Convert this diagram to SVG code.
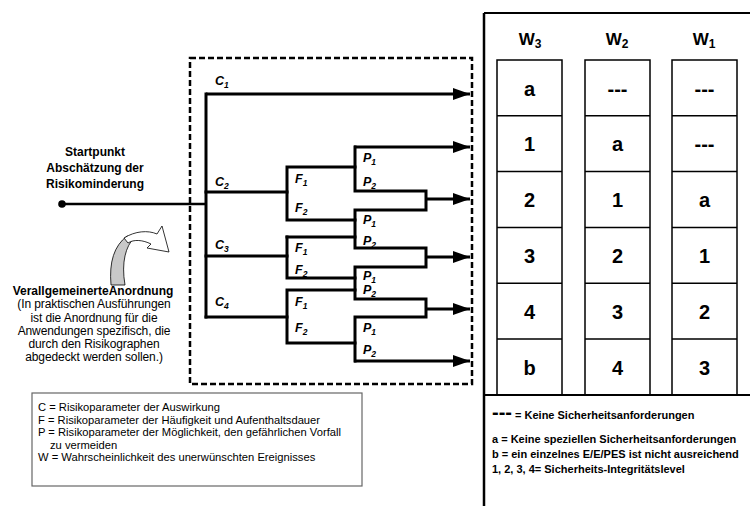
<svg xmlns="http://www.w3.org/2000/svg" width="750" height="506" viewBox="0 0 750 506">
<style>
.ln{fill:none;stroke:#000;stroke-width:3;stroke-linejoin:miter;stroke-linecap:square}
.lbl{font-family:"Liberation Sans",Arial,sans-serif;font-size:12.5px;font-weight:bold;font-style:italic;fill:#000}
.sub{font-size:8.5px}
.t{font-family:"Liberation Sans",Arial,sans-serif;fill:#000}
.b{font-weight:bold}
.cell{fill:#fff;stroke:#000;stroke-width:1.5}
.ct{font-family:"Liberation Sans",Arial,sans-serif;font-size:20px;font-weight:bold;text-anchor:middle;fill:#000}
.hd{font-family:"Liberation Sans",Arial,sans-serif;font-size:17px;font-weight:bold;text-anchor:middle;fill:#000}
</style>
<defs>
<marker id="ah" viewBox="0 0 17 12" refX="17" refY="6" markerWidth="17" markerHeight="12" markerUnits="userSpaceOnUse" orient="auto">
<path d="M0,0 L17,6 L0,12 Z" fill="#000"/>
</marker>
</defs>
<rect width="750" height="506" fill="#fff"/>

<g id="risk-graph-box">
<rect x="190" y="58" width="282" height="326" fill="none" stroke="#000" stroke-width="2.5" stroke-dasharray="6 3"/>
</g>

<g id="start">
<text class="t b" font-size="12" text-anchor="middle" x="95" y="156">Startpunkt</text>
<text class="t b" font-size="12" text-anchor="middle" x="95" y="172">Abschätzung der</text>
<text class="t b" font-size="12" text-anchor="middle" x="95" y="188">Risikominderung</text>
<circle cx="62" cy="204" r="3.8" fill="#000"/>
</g>

<g id="generalized-note">
<path d="M111,285 C109,262 114,246 127,236 L134,238 C126,246 121,262 125,285 Z" fill="#c8c8c8" stroke="#000" stroke-width="0.8"/>
<path d="M124,238 C135,231 148,230 157,234 L162,226 L169,252 L147,248 L151,244 C143,240 134,239 128,243 Z" fill="#fff" stroke="#000" stroke-width="0.8"/>
<text class="t b" font-size="12" text-anchor="middle" x="93" y="295">VerallgemeinerteAnordnung</text>
<g class="t" font-size="12" text-anchor="middle" letter-spacing="-0.1">
<text x="94" y="308">(In praktischen Ausführungen</text>
<text x="94" y="322">ist die Anordnung für die</text>
<text x="94" y="335">Anwendungen spezifisch, die</text>
<text x="94" y="348">durch den Risikographen</text>
<text x="94" y="361">abgedeckt werden sollen.)</text>
</g>
</g>

<g id="labels">
<text class="lbl" x="215" y="85">C<tspan class="sub" dy="3">1</tspan></text>
<text class="lbl" x="215" y="186">C<tspan class="sub" dy="3">2</tspan></text>
<text class="lbl" x="215" y="249">C<tspan class="sub" dy="3">3</tspan></text>
<text class="lbl" x="215" y="306">C<tspan class="sub" dy="3">4</tspan></text>
<text class="lbl" x="295" y="183">F<tspan class="sub" dy="3">1</tspan></text>
<text class="lbl" x="295" y="212">F<tspan class="sub" dy="3">2</tspan></text>
<text class="lbl" x="295" y="252">F<tspan class="sub" dy="3">1</tspan></text>
<text class="lbl" x="295" y="274">F<tspan class="sub" dy="3">2</tspan></text>
<text class="lbl" x="295" y="306">F<tspan class="sub" dy="3">1</tspan></text>
<text class="lbl" x="295" y="332">F<tspan class="sub" dy="3">2</tspan></text>
<text class="lbl" x="363" y="162">P<tspan class="sub" dy="3">1</tspan></text>
<text class="lbl" x="363" y="186">P<tspan class="sub" dy="3">2</tspan></text>
<text class="lbl" x="363" y="224">P<tspan class="sub" dy="3">1</tspan></text>
<text class="lbl" x="363" y="245">P<tspan class="sub" dy="3">2</tspan></text>
<text class="lbl" x="363" y="280">P<tspan class="sub" dy="3">1</tspan></text>
<text class="lbl" x="363" y="294">P<tspan class="sub" dy="3">2</tspan></text>
<text class="lbl" x="363" y="332">P<tspan class="sub" dy="3">1</tspan></text>
<text class="lbl" x="363" y="354">P<tspan class="sub" dy="3">2</tspan></text>
</g>

<g id="connectors">
<line x1="62" y1="204" x2="206" y2="204" stroke="#000" stroke-width="2.5"/>
<polyline class="ln" points="206,94 206,317"/>
<polyline class="ln" points="206,192 287,192"/>
<polyline class="ln" points="355,167 287,167 287,220 355,220"/>
<polyline class="ln" points="355,147 355,191 426,191 426,210 355,210 355,248 426,248 426,267 355,267 355,299 426,299 426,317 355,317 355,361"/>
<polyline class="ln" points="287,237 355,237"/>
<polyline class="ln" points="355,278 287,278 287,237"/>
<polyline class="ln" points="206,256 287,256"/>
<polyline class="ln" points="355,290 287,290 287,343 355,343"/>
<polyline class="ln" points="206,317 287,317"/>
<line x1="206" y1="94" x2="470" y2="94" stroke="#000" stroke-width="3" marker-end="url(#ah)"/>
<line x1="354" y1="147" x2="470" y2="147" stroke="#000" stroke-width="3" marker-end="url(#ah)"/>
<line x1="426" y1="199" x2="470" y2="199" stroke="#000" stroke-width="3" marker-end="url(#ah)"/>
<line x1="426" y1="257" x2="470" y2="257" stroke="#000" stroke-width="3" marker-end="url(#ah)"/>
<line x1="426" y1="309" x2="470" y2="309" stroke="#000" stroke-width="3" marker-end="url(#ah)"/>
<line x1="354" y1="361" x2="470" y2="361" stroke="#000" stroke-width="3" marker-end="url(#ah)"/>
</g>

<g id="table">
<line x1="484" y1="13" x2="484" y2="506" stroke="#000" stroke-width="2.5"/>
<line x1="484" y1="13" x2="750" y2="13" stroke="#000" stroke-width="2"/>
<text class="hd" x="530" y="45">W<tspan font-size="12" dy="3">3</tspan></text>
<text class="hd" x="617" y="45">W<tspan font-size="12" dy="3">2</tspan></text>
<text class="hd" x="704" y="45">W<tspan font-size="12" dy="3">1</tspan></text>
<g id="col-w3">
<rect class="cell" x="497" y="60" width="65" height="335"/>
<path d="M497,115.8 H562 M497,171.6 H562 M497,227.4 H562 M497,283.2 H562 M497,339 H562" stroke="#000" stroke-width="1.5"/>
<text class="ct" x="529.5" y="96">a</text>
<text class="ct" x="529.5" y="151">1</text>
<text class="ct" x="529.5" y="207">2</text>
<text class="ct" x="529.5" y="263">3</text>
<text class="ct" x="529.5" y="319">4</text>
<text class="ct" x="529.5" y="375">b</text>
</g>
<g id="col-w2">
<rect class="cell" x="585" y="60" width="65" height="335"/>
<path d="M585,115.8 H650 M585,171.6 H650 M585,227.4 H650 M585,283.2 H650 M585,339 H650" stroke="#000" stroke-width="1.5"/>
<text class="ct" x="617.5" y="96">---</text>
<text class="ct" x="617.5" y="151">a</text>
<text class="ct" x="617.5" y="207">1</text>
<text class="ct" x="617.5" y="263">2</text>
<text class="ct" x="617.5" y="319">3</text>
<text class="ct" x="617.5" y="375">4</text>
</g>
<g id="col-w1">
<rect class="cell" x="672" y="60" width="65" height="335"/>
<path d="M672,115.8 H737 M672,171.6 H737 M672,227.4 H737 M672,283.2 H737 M672,339 H737" stroke="#000" stroke-width="1.5"/>
<text class="ct" x="704.5" y="96">---</text>
<text class="ct" x="704.5" y="151">---</text>
<text class="ct" x="704.5" y="207">a</text>
<text class="ct" x="704.5" y="263">1</text>
<text class="ct" x="704.5" y="319">2</text>
<text class="ct" x="704.5" y="375">3</text>
</g>
<line x1="484" y1="395" x2="750" y2="395" stroke="#000" stroke-width="2"/>
</g>

<g id="legend-right" class="t b" font-size="11">
<text x="492" y="419"><tspan font-size="20">---</tspan> = Keine Sicherheitsanforderungen</text>
<text x="492" y="443">a = Keine speziellen Sicherheitsanforderungen</text>
<text x="492" y="458">b = ein einzelnes E/E/PES ist nicht ausreichend</text>
<text x="492" y="473">1, 2, 3, 4= Sicherheits-Integritätslevel</text>
</g>

<g id="legend-left">
<rect x="32" y="393" width="330" height="93" fill="#fff" stroke="#666" stroke-width="1.2"/>
<g class="t" font-size="11.2">
<text x="38" y="411">C = Risikoparameter der Auswirkung</text>
<text x="38" y="423.5">F = Risikoparameter der Häufigkeit und Aufenthaltsdauer</text>
<text x="38" y="436">P = Risikoparameter der Möglichkeit, den gefährlichen Vorfall</text>
<text x="50" y="448.5">zu vermeiden</text>
<text x="38" y="461">W = Wahrscheinlichkeit des unerwünschten Ereignisses</text>
</g>
</g>
</svg>
